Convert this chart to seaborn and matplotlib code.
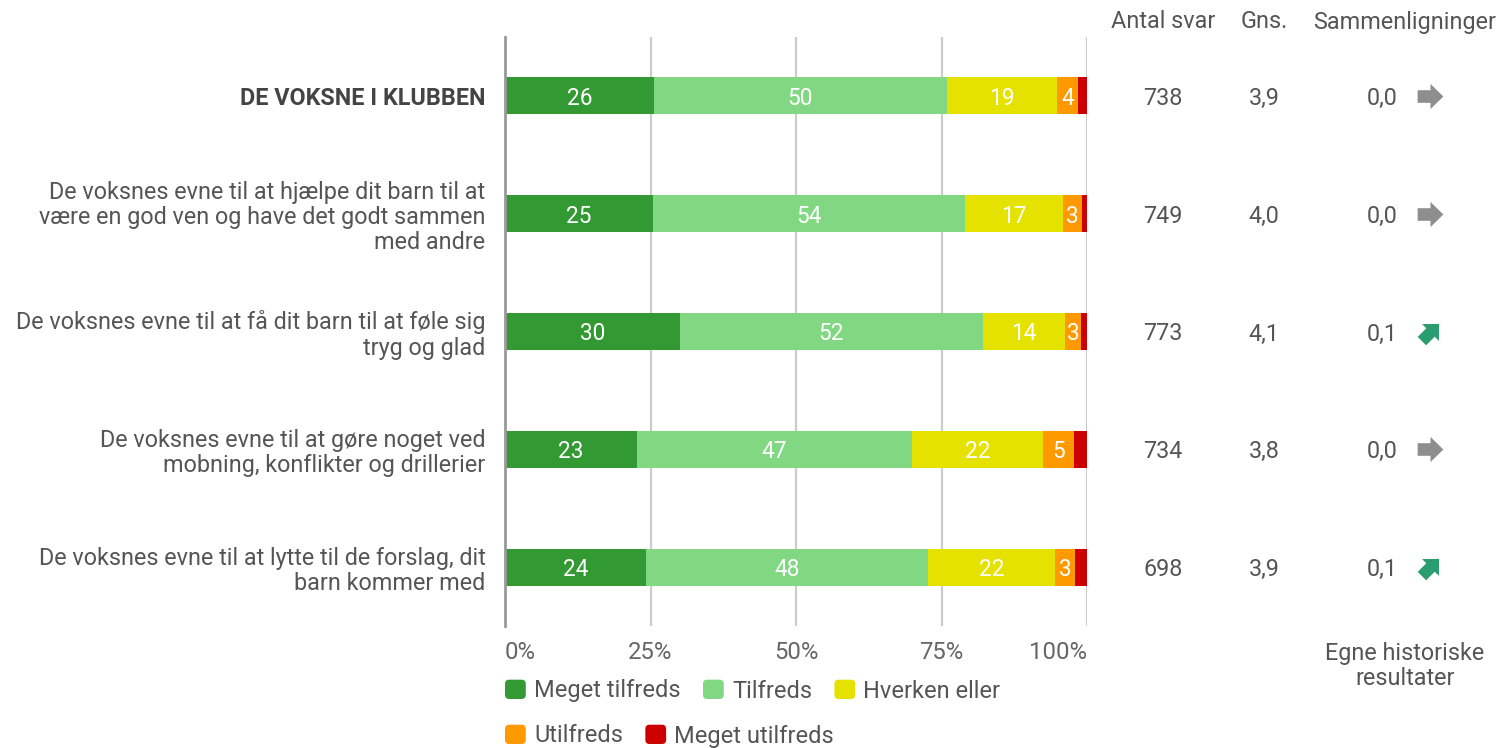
import numpy as np
import pandas as pd
import matplotlib
matplotlib.use("Agg")
import matplotlib.pyplot as plt
import seaborn as sns
from matplotlib.markers import MarkerStyle
from matplotlib.path import Path
from matplotlib.transforms import Affine2D, blended_transform_factory
from matplotlib.patches import Patch, FancyBboxPatch
from matplotlib.legend_handler import HandlerPatch

# ---- data -------------------------------------------------------------
questions = [
    "DE VOKSNE I KLUBBEN",
    "De voksnes evne til at hjælpe dit barn til at\nvære en god ven og have det godt sammen\nmed andre",
    "De voksnes evne til at få dit barn til at føle sig\ntryg og glad",
    "De voksnes evne til at gøre noget ved\nmobning, konflikter og drillerier",
    "De voksnes evne til at lytte til de forslag, dit\nbarn kommer med",
]
levels = ["Meget tilfreds", "Tilfreds", "Hverken eller", "Utilfreds", "Meget utilfreds"]
meget_tilfreds = [25.6, 25.4, 30.0, 22.6, 24.3]
tilfreds = [50.3, 53.7, 52.1, 47.4, 48.4]
hverken_eller = [19.0, 16.7, 14.2, 22.4, 21.8]
utilfreds = [3.6, 3.4, 2.6, 5.4, 3.4]
meget_utilfreds = [1.5, 0.8, 1.1, 2.2, 2.1]
antal_svar = [738, 749, 773, 734, 698]
gns = [3.9, 4.0, 4.1, 3.8, 3.9]
sammenligning = [0.0, 0.0, 0.1, 0.0, 0.1]
x_ticks = [0, 25, 50, 75, 100]
x_tick_labels = ["0%", "25%", "50%", "75%", "100%"]

colors = ["#339933", "#82D882", "#E6E200", "#FF9900", "#CC0000"]
TEXT = "#555555"
FS = 16.8

# ---- figure -------------------------------------------------------------
sns.set_theme(style="white")
plt.rcParams["font.family"] = ["Roboto", "DejaVu Sans"]

W, H = 1501, 748
fig = plt.figure(figsize=(W / 100, H / 100), dpi=100)
ax = fig.add_axes([505 / W, 1 - 626 / H, 582 / W, 589 / H])

shares = np.array([meget_tilfreds, tilfreds, hverken_eller, utilfreds, meget_utilfreds]).T
cum = shares.cumsum(axis=1)
df = pd.DataFrame(cum, columns=levels)
df["question"] = questions

# stacked bars: draw cumulative totals from the outermost level inwards
for j in reversed(range(len(levels))):
    sns.barplot(data=df, x=levels[j], y="question", order=questions, orient="h",
                color=colors[j], saturation=1, width=0.315, linewidth=0,
                errorbar=None, ax=ax)

# segment value labels
starts = cum - shares
for i in range(len(questions)):
    for j in range(len(levels)):
        v = shares[i, j]
        if round(v) >= 3:
            ax.text(starts[i, j] + v / 2, i, f"{round(v)}", ha="center",
                    va="center_baseline", color="white", fontsize=16.3)

ax.set_xlim(0, 100)
ax.set_ylim(len(questions) - 0.5, -0.5)
ax.set_xticks(x_ticks)
ax.set_xticklabels(x_tick_labels)
ax.set_xlabel("")
ax.set_ylabel("")
ax.xaxis.grid(True, color="#cccccc", linewidth=1.6)
ax.set_axisbelow(True)
for s in ["top", "right", "bottom"]:
    ax.spines[s].set_visible(False)
ax.spines["left"].set_color("#999999")
ax.spines["left"].set_linewidth(2)
ax.tick_params(axis="both", length=0)
ax.tick_params(axis="x", pad=11, labelsize=17.2, labelcolor="#666666")
ax.tick_params(axis="y", pad=14, labelsize=FS, labelcolor=TEXT)
xt = ax.get_xticklabels()
xt[0].set_ha("left")
xt[-1].set_ha("right")
yt = ax.get_yticklabels()
for t in yt:
    t.set_linespacing(1.12)
yt[0].set_fontweight("bold")
yt[0].set_color("#444444")

# ---- right-hand table -------------------------------------------------------
tr = blended_transform_factory(fig.transFigure, ax.transData)
col_n, col_g, col_c, col_a = 1163 / W, 1264 / W, 1382 / W, 1430 / W
hy = 1 - 22 / H
fig.text(col_n, hy, "Antal svar", ha="center", va="center", fontsize=FS, color=TEXT)
fig.text(col_g, hy, "Gns.", ha="center", va="center", fontsize=FS, color=TEXT)
fig.text(1405 / W, hy, "Sammenligninger", ha="center", va="center", fontsize=FS, color=TEXT)
fig.text(1405 / W, 1 - 666 / H, "Egne historiske\nresultater", ha="center", va="center",
         fontsize=FS, color=TEXT, linespacing=1.15)

arrow_path = Path(
    [(-1, -0.49), (0.0, -0.49), (0.0, -0.98), (1, 0), (0.0, 0.98), (0.0, 0.49), (-1, 0.49), (-1, -0.49)],
    [Path.MOVETO] + [Path.LINETO] * 6 + [Path.CLOSEPOLY],
)

for i in range(len(questions)):
    ax.text(col_n, i, f"{antal_svar[i]}", transform=tr, ha="center", va="center_baseline",
            fontsize=FS, color=TEXT)
    ax.text(col_g, i, f"{gns[i]:.1f}".replace(".", ","), transform=tr, ha="center",
            va="center_baseline", fontsize=FS, color=TEXT)
    ax.text(col_c, i, f"{sammenligning[i]:.1f}".replace(".", ","), transform=tr, ha="center",
            va="center_baseline", fontsize=FS, color=TEXT)
    d = sammenligning[i]
    if d > 0:
        ms = MarkerStyle(arrow_path, transform=Affine2D().rotate_deg(45))
        c, size = "#2A9D70", 17.5
    elif d < 0:
        ms = MarkerStyle(arrow_path, transform=Affine2D().rotate_deg(-45))
        c, size = "#CC0000", 17.5
    else:
        ms = MarkerStyle(arrow_path)
        c, size = "#8E8E8E", 18.5
    ax.plot([col_a], [i], marker=ms, markersize=size, color=c, markeredgewidth=0,
            linestyle="none", transform=tr, clip_on=False)

# ---- legend ---------------------------------------------------------------
def rounded_patch(legend, orig_handle, xdescent, ydescent, width, height, fontsize):
    return FancyBboxPatch((-xdescent, -ydescent), width, height,
                          boxstyle="round,pad=0,rounding_size=3")

handles = [Patch(facecolor=c, edgecolor="none", label=l) for c, l in zip(colors, levels)]
leg_kw = dict(frameon=False, fontsize=17, handlelength=0.88, handleheight=0.88,
              handletextpad=0.35, columnspacing=0.95, borderpad=0, borderaxespad=0,
              loc="center left", labelcolor=TEXT,
              handler_map={Patch: HandlerPatch(patch_func=rounded_patch)})
leg1 = fig.legend(handles=handles[:3], ncol=3, bbox_to_anchor=(505 / W, 1 - 691 / H), **leg_kw)
leg2 = fig.legend(handles=handles[3:], ncol=2, bbox_to_anchor=(505 / W, 1 - 736 / H), **leg_kw)

fig.savefig("out.png", dpi=100)
